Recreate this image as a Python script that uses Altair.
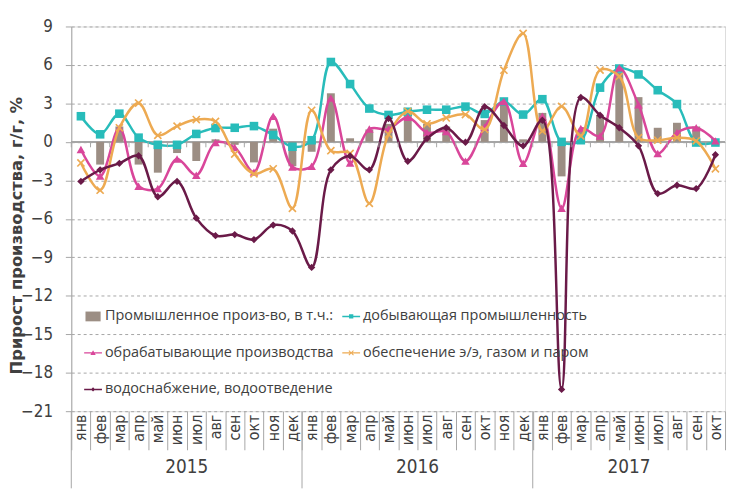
import json
import altair as alt
import pandas as pd

# ---------------- data ----------------
months = ["янв", "фев", "мар", "апр", "май", "июн", "июл", "авг", "сен", "окт", "ноя", "дек"]
years = ["2015", "2016", "2017"]
year_start = [0, 12, 24]
year_count = [12, 12, 10]

s_bar = "Промышленное произ-во, в т.ч.:"
s_dob = "добывающая промышленность"
s_obr = "обрабатывающие производства"
s_ee = "обеспечение э/э, газом и паром"
s_vod = "водоснабжение, водоотведение"

prom = [0.0, -1.77, 1.2, -1.77, -2.4, -0.87, -1.49, 0.2, -0.23, -1.6, 1.03, -1.9,
        -0.77, 3.79, 0.28, 0.97, 1.4, 2.2, 1.4, 1.2, 0.0, 1.7, 3.36, 0.2,
        2.26, -2.69, 0.8, 2.1, 5.41, 3.49, 1.1, 1.49, 1.2, 0.0]
dob = [2.0, 0.59, 2.2, 0.33, -0.23, -0.23, 0.62, 1.08, 1.1, 1.23, 0.54, -0.38,
       0.13, 6.23, 4.51, 2.6, 2.1, 2.35, 2.51, 2.51, 2.75, 2.18, 3.15, 2.13,
       3.33, 0.0, 0.13, 4.23, 5.72, 5.26, 4.03, 2.95, -0.05, -0.05]
obr = [-0.59, -2.67, 1.08, -3.46, -3.64, -1.33, -2.6, -0.05, -0.44, -2.36, 2.0, -1.97,
       -1.9, 3.41, -1.64, 1.0, 1.0, 1.92, 0.72, 0.8, -1.5, 1.15, 3.15, -1.67,
       2.0, -5.18, 1.05, 0.46, 5.77, 2.9, -0.9, 0.72, 1.1, 0.08]
ee = [-1.64, -3.77, 1.1, 3.03, 0.51, 1.23, 1.74, 1.6, -0.95, -2.49, -2.1, -5.18,
      2.46, -0.69, -0.9, -4.79, 0.59, 2.38, 1.41, 1.87, 2.13, 0.97, 5.59, 8.46,
      0.85, 2.77, 0.46, 5.6, 5.1, 0.33, 0.13, 0.33, 0.08, -2.1]
vod = [-3.08, -2.18, -1.67, -1.08, -4.28, -3.08, -5.95, -7.31, -7.23, -7.62, -6.49, -6.95,
       -9.79, -2.18, -1.1, -2.18, 1.82, -1.51, 0.26, 1.1, -0.03, 2.74, 1.28, -0.31,
       1.69, -19.3, 3.46, 2.08, 1.1, -0.31, -4.03, -3.38, -3.64, -1.0]

y_ticks = [9, 6, 3, 0, -3, -6, -9, -12, -15, -18, -21]

# ---------------- styles ----------------
TXT = "#404040"
GRID = "#A6A6A6"
NARROW = "'Liberation Sans Narrow', 'DejaVu Sans Condensed', 'Open Sans', sans-serif"
SANS = "'Open Sans', 'Noto Sans', sans-serif"

color_of = {s_bar: "#9C8E84", s_dob: "#28BCBA", s_obr: "#D9469A", s_ee: "#EDAA52", s_vod: "#6A1A48"}
L = "M-1,-0.08H1V0.08H-1Z"
legend_shape_of = {
    s_bar: "M-0.85,-0.55H0.85V0.55H-0.85Z",
    s_dob: L + "M-0.24,-0.24H0.24V0.24H-0.24Z",
    s_obr: L + "M0,-0.3L0.3,0.24H-0.3Z",
    s_ee: L + "M-0.3,-0.22L-0.22,-0.3L0,-0.08L0.22,-0.3L0.3,-0.22L0.08,0L0.3,0.22L0.22,0.3L0,0.08L-0.22,0.3L-0.3,0.22L-0.08,0Z",
    s_vod: L + "M0,-0.24L0.24,0L0,0.24L-0.24,0Z",
}
# legend fills column by column (3 rows): this order gives the reference reading order
legend_order = [s_bar, s_obr, s_vod, s_dob, s_ee]

n = len(prom)
idx = list(range(n))


def frame(name, vals):
    return pd.DataFrame({"idx": idx, "series": name, "value": vals})


df_bar = frame(s_bar, prom)
line_sets = [(s_dob, dob), (s_obr, obr), (s_ee, ee), (s_vod, vod)]
first_val = {s_bar: prom[0], s_dob: dob[0], s_obr: obr[0], s_ee: ee[0], s_vod: vod[0]}

df_year = pd.DataFrame({"year": years, "start": year_start, "count": year_count})
df_bounds = pd.DataFrame({"idx": year_start})
df_zero_ticks = pd.DataFrame({"idx": idx})
# legend carrier: first point of every series (drawn with zero size)
df_leg = pd.DataFrame({"idx": [0] * 5, "series": legend_order,
                       "value": [first_val[s] for s in legend_order]})

W, H = 661, 389

xscale = alt.Scale(domain=idx, paddingInner=0, paddingOuter=0)
xaxis = alt.Axis(
    title=None,
    labelExpr=json.dumps(months, ensure_ascii=False) + "[datum.value % 12]",
    labelAngle=270, labelAlign="right", labelBaseline="middle",
    labelPadding=-36, labelFont=NARROW, labelFontSize=16, labelColor=TXT,
    tickSize=39, tickBand="extent", tickColor=GRID, tickWidth=1,
    domain=False, grid=False,
)
yscale = alt.Scale(domain=[-21, 9], nice=False, zero=False)
yaxis = alt.Axis(
    title="Прирост производства, г/г, %",
    titleFont="'DejaVu Sans', sans-serif", titleFontSize=16.5, titleFontWeight="bold", titleColor=TXT,
    titleX=-55, titleY=211, titleAngle=270, titleBaseline="middle", titleAlign="center",
    values=y_ticks, format="d",
    labelFont=NARROW, labelFontSize=17, labelColor=TXT, labelPadding=13,
    tickSize=6, tickColor=GRID, domainColor=GRID, domainWidth=1,
    grid=True, gridColor=GRID, gridDash=[3, 3], gridWidth=1,
)
cscale = alt.Scale(domain=legend_order, range=[color_of[s] for s in legend_order])
sscale = alt.Scale(domain=legend_order, range=[legend_shape_of[s] for s in legend_order])


def X(field="idx:O", band=None):
    if band is None:
        return alt.X(field, scale=xscale, axis=xaxis)
    return alt.X(field, scale=xscale, axis=xaxis, bandPosition=band)


def Yv():
    return alt.Y("value:Q", scale=yscale, axis=yaxis)


legend = alt.Legend(
    title=None, orient="none", legendX=13, legendY=284, columns=2,
    columnPadding=8, rowPadding=21, padding=0,
    symbolSize=324, symbolStrokeWidth=0, symbolOpacity=1,
    labelOffset=3, labelLimit=500,
    labelFont=SANS, labelFontSize=14.6, labelColor=TXT,
)

# ---------------- layers ----------------
legend_layer = alt.Chart(df_leg).mark_point(filled=True, size=0).encode(
    x=X(), y=Yv(),
    color=alt.Color("series:N", scale=cscale, legend=legend),
    shape=alt.Shape("series:N", scale=sscale, legend=legend),
)

zero_line = alt.Chart(df_bar).mark_rule(color=GRID, strokeWidth=1.3).encode(
    y=alt.Y(datum=0, scale=yscale, axis=yaxis)
)
zero_ticks = alt.Chart(df_zero_ticks).mark_rule(color=GRID, strokeWidth=1).encode(
    x=X(band=0),
    y=alt.Y(datum=0, scale=yscale, axis=yaxis),
    y2=alt.datum(-0.42),
)

bars = alt.Chart(df_bar).mark_bar(size=8).encode(
    x=X(), y=Yv(),
    color=alt.Color("series:N", scale=cscale, legend=None),
)

marker = {
    s_dob: dict(shape="square", size=75),
    s_obr: dict(shape="triangle-up", size=75),
    s_ee: dict(shape="M-1,-0.72L-0.72,-1L0,-0.28L0.72,-1L1,-0.72L0.28,0L1,0.72L0.72,1L0,0.28L-0.72,1L-1,0.72L-0.28,0Z", size=70),
    s_vod: dict(shape="diamond", size=55),
}

layers = [legend_layer, zero_line, bars]
for name, vals in line_sets:
    d = frame(name, vals)
    base = alt.Chart(d).encode(
        x=X(), y=Yv(),
        color=alt.Color("series:N", scale=cscale, legend=None),
    )
    layers.append(base.mark_line(interpolate="catmull-rom", strokeWidth=2.5))
    layers.append(base.mark_point(filled=True, opacity=1, strokeWidth=0, **marker[name]))

layers.append(zero_ticks)

year_rules = alt.Chart(df_bounds).mark_rule(color=GRID, strokeWidth=1).encode(
    x=X(band=0),
    y=alt.value(H),
    y2=alt.value(H + 78),
)
year_text = alt.Chart(df_year).transform_calculate(
    mid="datum.start + datum.count / 2"
).mark_text(font=NARROW, fontSize=19, color=TXT, baseline="middle").encode(
    x=X("mid:O", band=0),
    y=alt.value(H + 57),
    text="year:N",
)
layers += [year_rules, year_text]

chart = alt.layer(*layers).properties(
    width=W, height=H,
    autosize=alt.AutoSizeParams(type="none"),
    padding={"left": 64, "top": 16, "right": 2, "bottom": 76},
).configure_view(stroke=None).configure(background="white")

chart.save("out.html", embed_options={"renderer": "svg", "actions": False})
